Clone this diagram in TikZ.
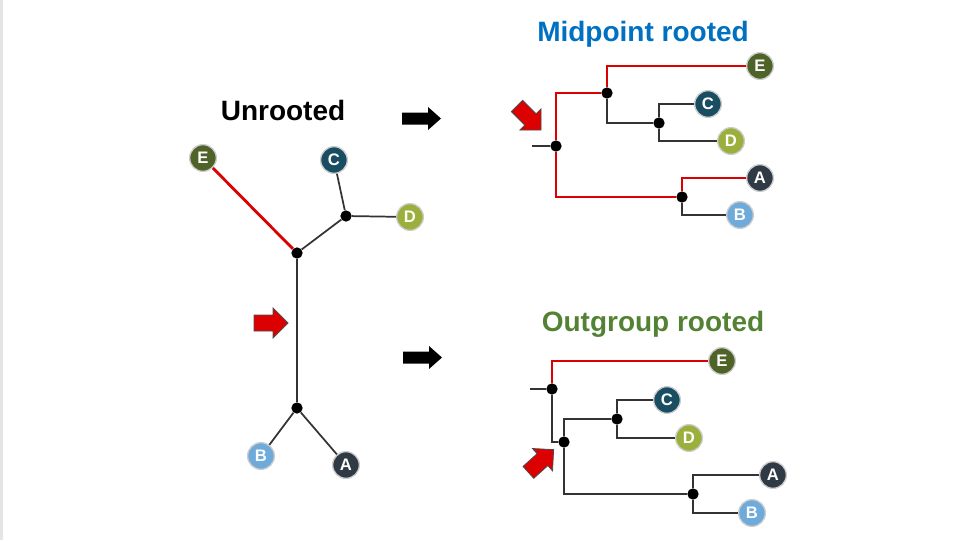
\documentclass[tikz,border=0pt]{standalone}
\usepackage{fontspec}
\setmainfont{Liberation Sans}
\usepackage{tikz}
\usetikzlibrary{shapes,positioning}
\definecolor{colA}{RGB}{47,58,68}
\definecolor{colB}{RGB}{110,170,218}
\definecolor{colC}{RGB}{25,78,98}
\definecolor{colD}{RGB}{155,175,60}
\definecolor{colE}{RGB}{79,98,40}
\definecolor{treered}{RGB}{220,0,0}
\definecolor{midblue}{RGB}{0,112,192}
\definecolor{outgreen}{RGB}{84,130,53}
\tikzstyle{leaf} = [circle, draw=black!20, line width=1pt, minimum size=20pt,
    inner sep=0pt, text=white, font=\fontsize{12.5}{14}\selectfont\bfseries]
\tikzstyle{dot} = [circle, fill=black, minimum size=8.5pt, inner sep=0pt]
\tikzstyle{branch} = [draw=black!80, line width=1.3pt]
\tikzstyle{redbranch} = [draw=treered, line width=2.1pt]
\tikzstyle{title} = [font=\fontsize{21}{25}\selectfont\bfseries]
\tikzset{
  blackarrow/.pic={\fill[black] (-19.5,-6) -- (6.5,-6) -- (6.5,-11.5) -- (19.5,0)
      -- (6.5,11.5) -- (6.5,6) -- (-19.5,6) -- cycle;},
  redarrow/.pic={\filldraw[fill=treered, draw=black!70, line width=0.6pt]
      (-17,-8) -- (2,-8) -- (2,-15) -- (17,0) -- (2,15) -- (2,8) -- (-17,8) -- cycle;}
}

\begin{document}
\begin{tikzpicture}[x=0.75pt, y=-0.75pt]
\useasboundingbox (0,0) rectangle (970,540);
\fill[black!10] (0,0) rectangle (2.5,540);

% unrooted tree
\node [title] (tU) at (283,110) {Unrooted};
\node [dot] (u1) at (297,253) {};
\node [dot] (u2) at (346,216) {};
\node [dot] (u3) at (297,408) {};
\node [leaf, fill=colE] (uE) at (203,158) {E};
\node [leaf, fill=colC] (uC) at (334,160) {C};
\node [leaf, fill=colD] (uD) at (410,217) {D};
\node [leaf, fill=colB] (uB) at (261,456) {B};
\node [leaf, fill=colA] (uA) at (346,465) {A};

\draw [redbranch] (uE) -- (u1);
\draw [branch] (u1) -- (u2);
\draw [branch] (u2) -- (uC);
\draw [branch] (u2) -- (uD);
\draw [branch] (u1) -- (u3);
\draw [branch] (u3) -- (uB);
\draw [branch] (u3) -- (uA);

\pic at (271,323) {redarrow};
\pic at (421.5,118.5) {blackarrow};
\pic at (422.5,357.5) {blackarrow};

% midpoint rooted
\node [title, text=midblue] (tM) at (643,34) {Midpoint rooted};
\node [dot] (m0) at (556,146) {};
\coordinate (m0stub) at (532,146);
\node [dot] (mEC) at (607,93) {};
\node [dot] (mCD) at (659,123) {};
\node [dot] (mAB) at (682,197) {};
\node [leaf, fill=colE] (mE) at (760,66) {E};
\node [leaf, fill=colC] (mC) at (708,104) {C};
\node [leaf, fill=colD] (mD) at (731,141) {D};
\node [leaf, fill=colA] (mA) at (760,178) {A};
\node [leaf, fill=colB] (mB) at (740,215) {B};

\draw [branch] (m0stub) -- (m0);
\draw [redbranch] (m0) |- (mEC);
\draw [redbranch] (mEC) |- (mE);
\draw [branch] (mEC) |- (mCD);
\draw [branch] (mCD) |- (mC);
\draw [branch] (mCD) |- (mD);
\draw [redbranch] (m0) |- (mAB);
\draw [redbranch] (mAB) |- (mA);
\draw [branch] (mAB) |- (mB);

\pic [rotate=-45] at (529,118) {redarrow};

% outgroup rooted
\node [title, text=outgreen] (tO) at (653,324) {Outgroup rooted};
\node [dot] (o0) at (552,389) {};
\coordinate (o0stub) at (530,389);
\node [dot] (o1) at (564,442) {};
\node [dot] (oCD) at (617,419) {};
\node [dot] (oAB) at (693,494) {};
\node [leaf, fill=colE] (oE) at (722,361) {E};
\node [leaf, fill=colC] (oC) at (667,400) {C};
\node [leaf, fill=colD] (oD) at (689,438) {D};
\node [leaf, fill=colA] (oA) at (773,475) {A};
\node [leaf, fill=colB] (oB) at (752,513) {B};

\draw [branch] (o0stub) -- (o0);
\draw [redbranch] (o0) |- (oE);
\draw [branch] (o0) |- (o1);
\draw [branch] (o1) |- (oCD);
\draw [branch] (oCD) |- (oC);
\draw [branch] (oCD) |- (oD);
\draw [branch] (o1) |- (oAB);
\draw [branch] (oAB) |- (oA);
\draw [branch] (oAB) |- (oB);

\pic [rotate=42] at (541,461) {redarrow};

\end{tikzpicture}
\end{document}
